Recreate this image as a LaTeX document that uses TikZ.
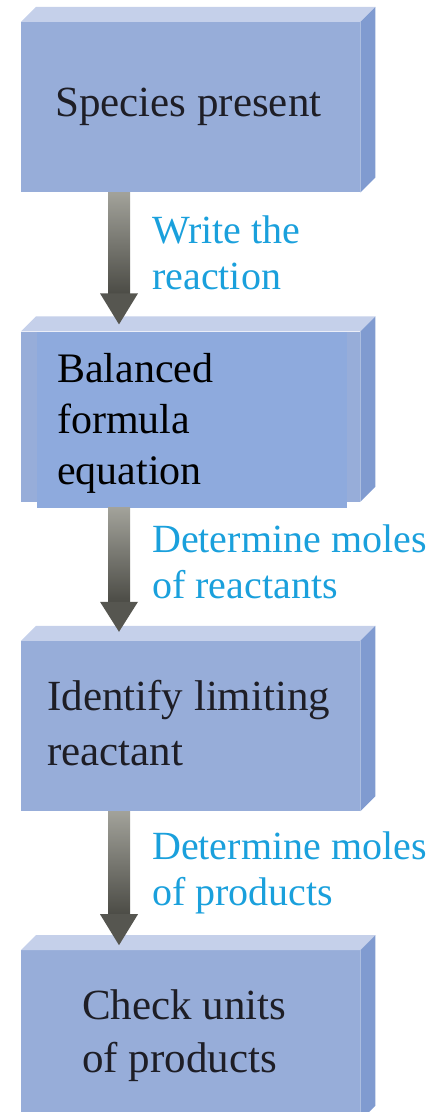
\documentclass[tikz,border=0pt]{standalone}
\usepackage{fontspec}
\setmainfont{Liberation Serif}
\usetikzlibrary{positioning,calc}
\definecolor{frente}{RGB}{151,173,217}
\definecolor{arriba}{RGB}{197,208,234}
\definecolor{lado}{RGB}{128,155,208}
\definecolor{frenteTexto}{RGB}{142,170,221}
\definecolor{cian}{RGB}{26,160,220}
\definecolor{tinta}{RGB}{30,30,38}
\definecolor{grisClaro}{RGB}{162,162,154}
\definecolor{grisOscuro}{RGB}{76,76,70}
\definecolor{grisPunta}{RGB}{86,86,80}

\begin{document}
\begin{tikzpicture}[x=1pt, y=1pt,
    caja/.style={rectangle, fill=frente, minimum width=339pt,
                 minimum height=170pt, inner sep=0pt},
    texto/.style={align=left, inner sep=0pt, anchor=west, text=tinta,
                  font=\fontsize{43}{53}\selectfont},
    rotulo/.style={align=left, inner sep=0pt, anchor=west, text=cian,
                   font=\fontsize{40}{46}\selectfont},
    flecha/.style={top color=grisClaro, bottom color=grisOscuro},
    punta/.style={fill=grisPunta},
    node distance=139pt
  ]
    \clip (0,0) rectangle (439,1112);
    \node[caja, anchor=north west] (b1) at (21,1090) {};
    \node[caja, below=of b1] (b2) {};
    \node[caja, below=of b2] (b3) {};
    \node[caja, below=of b3] (b4) {};
    \fill[arriba] (b1.north west) -- ++(15,15) -- ($(b1.north east)+(15,15)$) -- (b1.north east) -- cycle;
    \fill[lado] (b1.north east) -- ++(15,15) -- ($(b1.south east)+(15,15)$) -- (b1.south east) -- cycle;
    \fill[arriba] (b2.north west) -- ++(15,15) -- ($(b2.north east)+(15,15)$) -- (b2.north east) -- cycle;
    \fill[lado] (b2.north east) -- ++(15,15) -- ($(b2.south east)+(15,15)$) -- (b2.south east) -- cycle;
    \fill[arriba] (b3.north west) -- ++(15,15) -- ($(b3.north east)+(15,15)$) -- (b3.north east) -- cycle;
    \fill[lado] (b3.north east) -- ++(15,15) -- ($(b3.south east)+(15,15)$) -- (b3.south east) -- cycle;
    \fill[arriba] (b4.north west) -- ++(15,15) -- ($(b4.north east)+(15,15)$) -- (b4.north east) -- cycle;
    \fill[lado] (b4.north east) -- ++(15,15) -- ($(b4.south east)+(15,15)$) -- (b4.south east) -- cycle;
    \node[caja, fill=frenteTexto, minimum width=310pt, minimum height=176pt, anchor=north west]
         (eq) at ($(b2.north west)+(16,0)$) {};
    \node[texto] (t1) at ($(b1.west)+(34,0)$) {Species present};
    \node[texto, text=black, font=\fontsize{42}{51}\selectfont] (t2) at ($(eq.west)+(20,-4)$)
         {Balanced\\formula\\equation};
    \node[texto, font=\fontsize{43}{55}\selectfont] (t3) at ($(b3.west)+(26,3)$)
         {Identify limiting\\reactant};
    \node[texto] (t4) at ($(b4.west)+(61,0)$) {Check units\\of products};
    \shade[flecha] ($(b1.south west)+(87,0)$) rectangle ($(b2.north west)+(109,38)$);
    \fill[punta] ($(b2.north west)+(79,38)$) -- ($(b2.north west)+(117,38)$) -- ($(b2.north west)+(98,7)$) -- cycle;
    \shade[flecha] ($(eq.south west)+(71,0)$) rectangle ($(b3.north west)+(109,39)$);
    \fill[punta] ($(b3.north west)+(79,39)$) -- ($(b3.north west)+(117,39)$) -- ($(b3.north west)+(98,9)$) -- cycle;
    \shade[flecha] ($(b3.south west)+(87,0)$) rectangle ($(b4.north west)+(109,36)$);
    \fill[punta] ($(b4.north west)+(79,36)$) -- ($(b4.north west)+(117,36)$) -- ($(b4.north west)+(98,5)$) -- cycle;
    \node[rotulo] (r1) at ($(b1.south west)+(131,-60)$) {Write the\\reaction};
    \node[rotulo] (r2) at ($(eq.south west)+(115,-54)$) {Determine moles\\of reactants};
    \node[rotulo] (r3) at ($(b3.south west)+(131,-62)$) {Determine moles\\of products};
\end{tikzpicture}
\end{document}
